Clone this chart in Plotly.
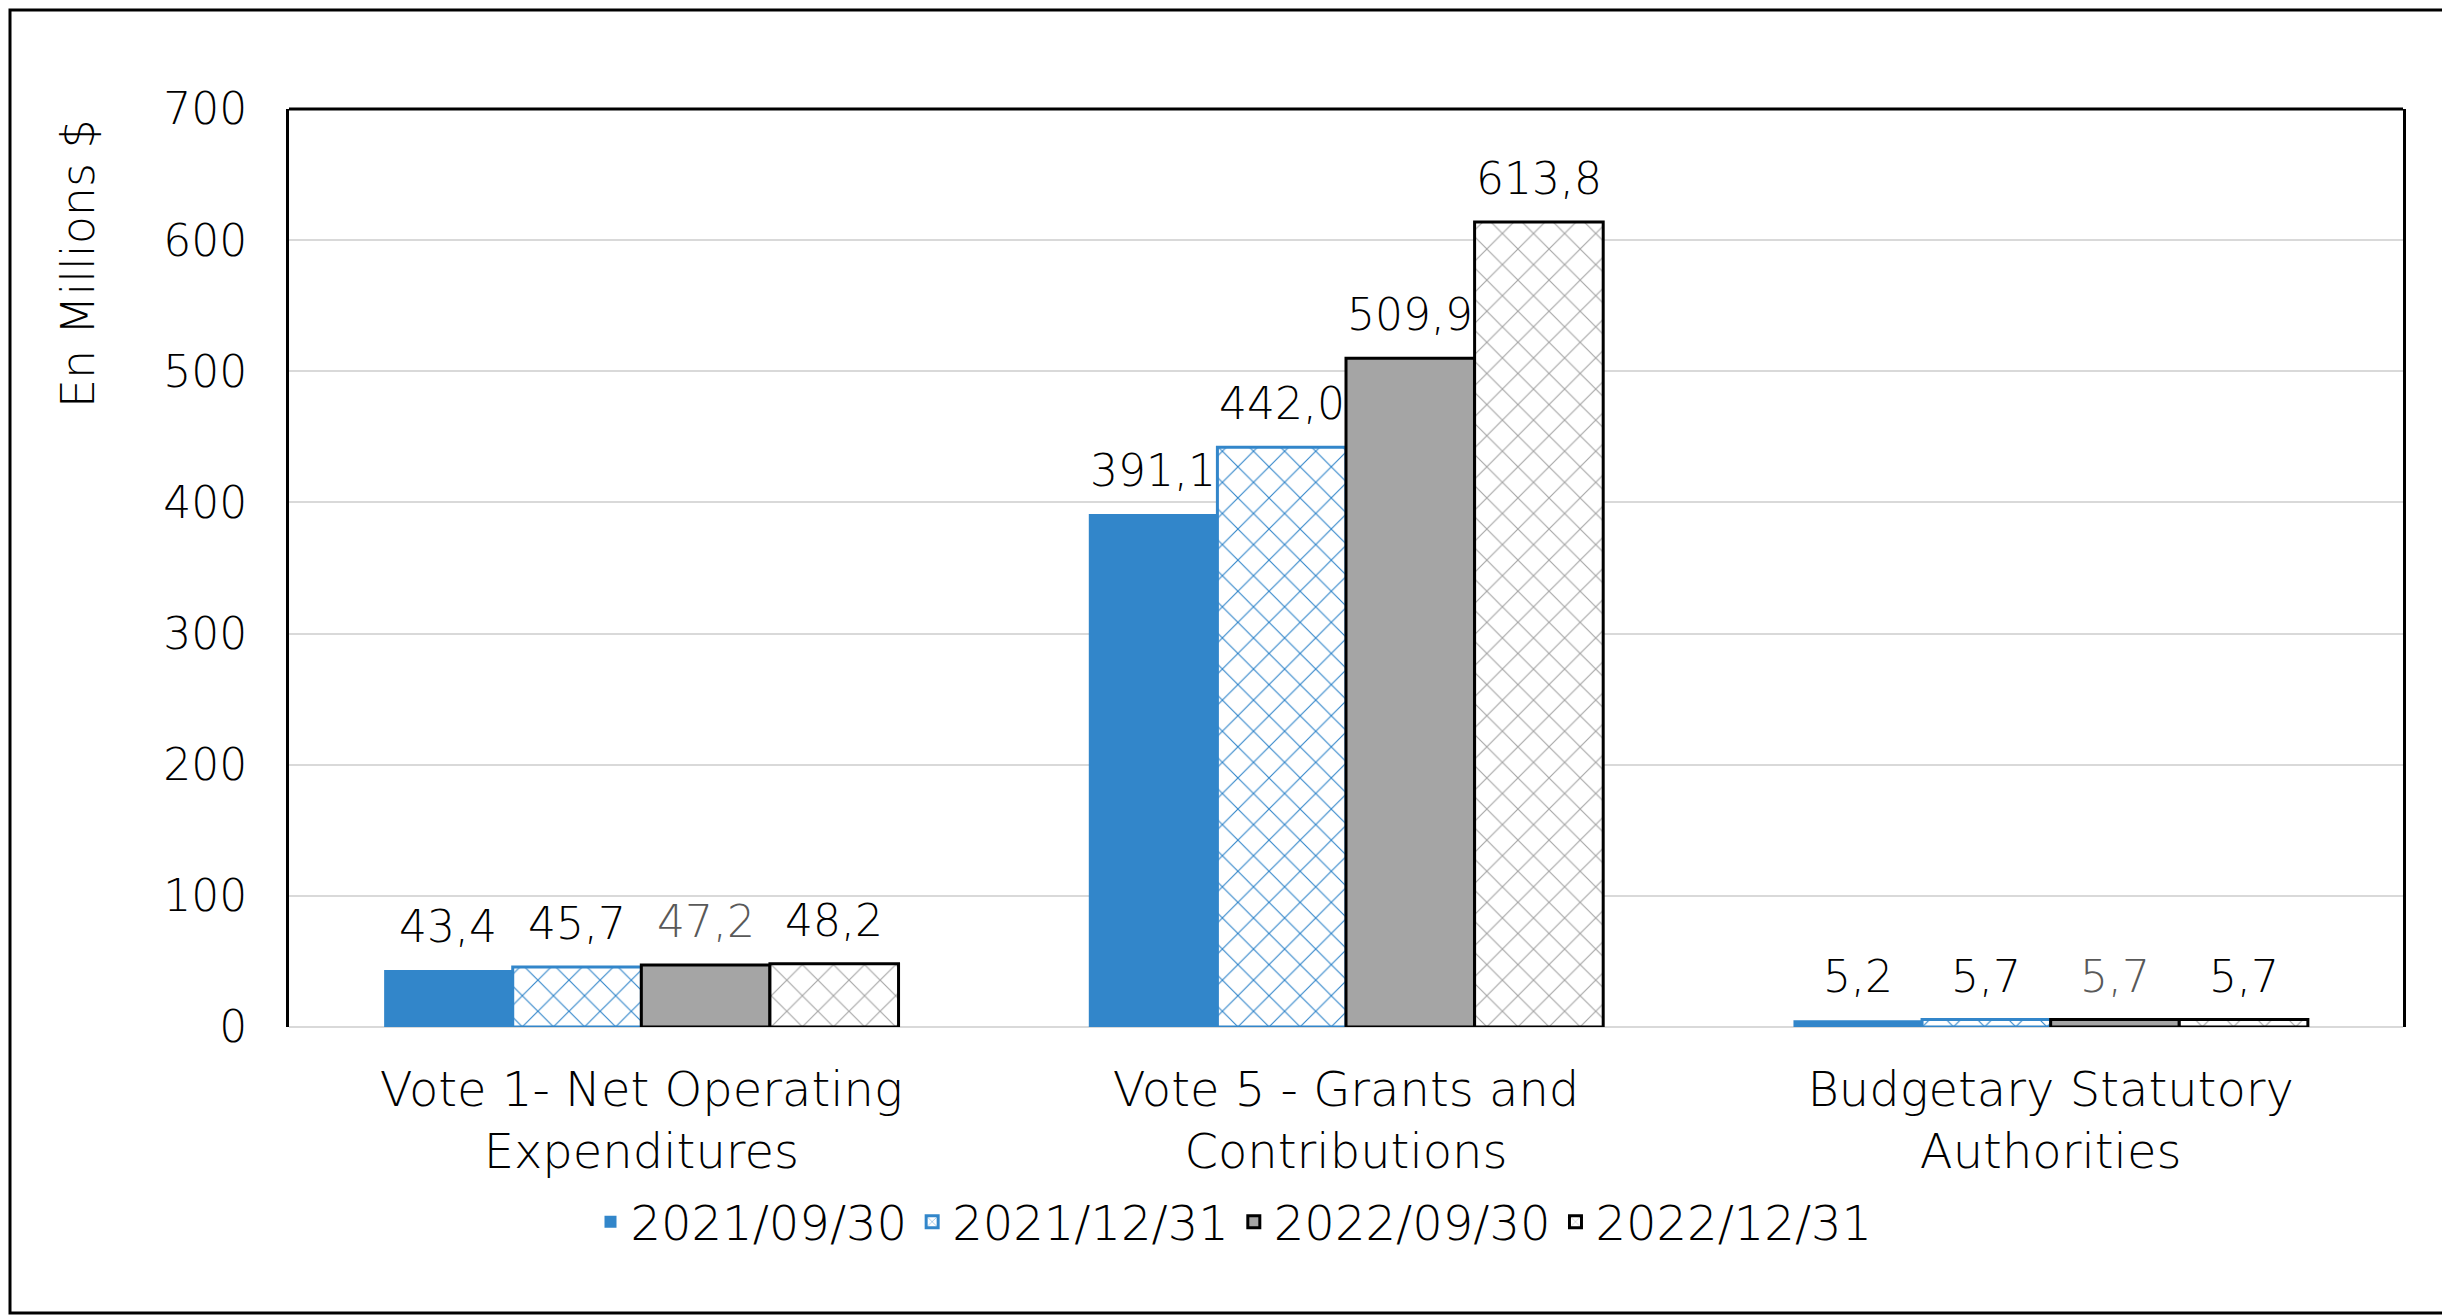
import plotly.graph_objects as go

categories = [
    "Vote 1- Net Operating<br>Expenditures",
    "Vote 5 - Grants and<br>Contributions",
    "Budgetary Statutory<br>Authorities",
]
series_names = ["2021/09/30", "2021/12/31", "2022/09/30", "2022/12/31"]
values_2021_09 = [43.4, 391.1, 5.2]
values_2021_12 = [45.7, 442.0, 5.7]
values_2022_09 = [47.2, 509.9, 5.7]
values_2022_12 = [48.2, 613.8, 5.7]
y_ticks = [0, 100, 200, 300, 400, 500, 600, 700]

all_values = [values_2021_09, values_2021_12, values_2022_09, values_2022_12]

# page body has an 8px margin, so the figure is shrunk by that much
OFF = 8
W, H = 2450 - OFF, 1315 - OFF
ML, MR, MT, MB = 289 - OFF, 47, 109 - OFF, 288
PW, PH = W - ML - MR, H - MT - MB
BARGAP = 0.27
FONT = "DejaVu Sans"
FS = 48      # words
FS_NUM = 44  # numbers (DejaVu digits run wide)
WEIGHT = 200

blue = "#3286CA"
grey = "#A5A5A5"

styles = [
    dict(color=blue, line=dict(width=0)),
    dict(color="white", line=dict(color=blue, width=3),
         pattern=dict(shape="x", fgcolor=blue, bgcolor="white",
                      fillmode="replace", size=22, solidity=0.1)),
    dict(color=grey, line=dict(color="black", width=3)),
    dict(color="white", line=dict(color="black", width=3),
         pattern=dict(shape="x", fgcolor="#A6A6A6", bgcolor="white",
                      fillmode="replace", size=22, solidity=0.1)),
]

fig = go.Figure()
for name, vals, st in zip(series_names, all_values, styles):
    fig.add_trace(go.Bar(x=categories, y=vals, name=name, marker=st))

# data labels
label_colors = [
    ["black", "black", "black"],
    ["black", "black", "black"],
    ["#595959", "black", "#595959"],
    ["black", "black", "black"],
]
bar_px = PW / len(categories) * (1 - BARGAP) / len(series_names)
for i, vals in enumerate(all_values):
    for j, v in enumerate(vals):
        fig.add_annotation(
            x=categories[j], y=v, xref="x", yref="y",
            text=f"{v:.1f}".replace(".", ","),
            showarrow=False, yanchor="bottom", xanchor="center",
            xshift=(i - 1.5) * bar_px, yshift=16,
            font=dict(family=FONT, size=FS_NUM, weight=WEIGHT,
                      color=label_colors[i][j]),
        )

# y axis title near the top
fig.add_annotation(
    x=(78 - 289) / PW, y=(1027 - 264) / PH, xref="paper", yref="paper",
    xanchor="center", yanchor="middle",
    text="En Millions $", textangle=-90, showarrow=False,
    font=dict(family=FONT, size=46, weight=WEIGHT, color="black"),
)

# plot top border and outer frame
fig.add_shape(type="line", xref="paper", yref="paper", x0=0, x1=1, y0=1, y1=1,
              line=dict(color="black", width=3))
fig.add_shape(type="rect", xref="paper", yref="paper",
              x0=(-ML + 2) / PW, x1=1 + (MR - 2) / PW,
              y0=(-MB + 2) / PH, y1=1 + (MT - 2) / PH,
              line=dict(color="black", width=3))

fig.update_layout(
    width=W, height=H,
    margin=dict(l=ML, r=MR, t=MT, b=MB),
    barmode="group", bargap=BARGAP, bargroupgap=0,
    plot_bgcolor="white", paper_bgcolor="white",
    font=dict(family=FONT, size=FS, weight=WEIGHT, color="black"),
    showlegend=True,
    legend=dict(orientation="h", x=(1234 - 289) / PW, xanchor="center",
                y=(1027 - 1222) / PH, yanchor="middle",
                font=dict(size=FS, weight=WEIGHT),
                traceorder="normal", itemwidth=30),
    xaxis=dict(showline=False, showgrid=False, ticks="",
               ticklabelstandoff=30,
               tickfont=dict(size=FS, weight=WEIGHT)),
    yaxis=dict(range=[0, 700], tickvals=y_ticks, showgrid=True,
               gridcolor="#D9D9D9", gridwidth=2, zeroline=True,
               zerolinecolor="#D9D9D9", zerolinewidth=2,
               showline=True, linecolor="black", linewidth=3, mirror=True,
               ticks="", ticklabelstandoff=30,
               tickfont=dict(size=FS_NUM, weight=WEIGHT)),
)

fig.write_html("out.html")
